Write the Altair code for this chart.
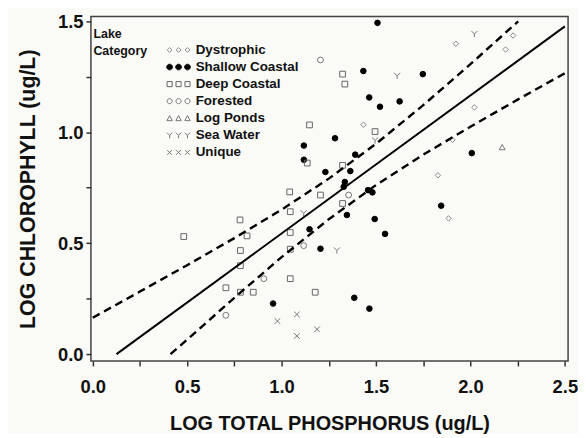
import altair as alt
import pandas as pd

# ---------------- data ----------------
categories = ["Dystrophic", "Shallow Coastal", "Deep Coastal", "Forested",
              "Log Ponds", "Sea Water", "Unique"]

dys_x = [1.923, 2.226, 2.186, 1.434, 2.021, 1.828, 1.884, 1.905]
dys_y = [1.399, 1.436, 1.373, 1.034, 1.112, 0.806, 0.612, 0.966]

sc_x = [1.508, 1.433, 1.748, 1.464, 1.521, 1.625, 1.283, 1.118, 1.118, 1.390,
        1.232, 1.364, 1.335, 1.329, 1.458, 1.481, 2.007, 1.845, 1.346, 1.493,
        1.548, 1.148, 1.206, 1.385, 1.465, 0.955]
sc_y = [1.493, 1.276, 1.262, 1.157, 1.115, 1.139, 0.973, 0.940, 0.876, 0.899,
        0.821, 0.825, 0.776, 0.754, 0.739, 0.729, 0.906, 0.669, 0.627, 0.609,
        0.542, 0.563, 0.475, 0.254, 0.205, 0.228]

dc_x = [1.323, 1.335, 1.148, 1.495, 1.136, 1.323, 1.043, 1.206, 1.046, 1.323,
        1.046, 1.046, 0.780, 0.817, 0.482, 0.782, 0.782, 0.705, 0.782, 0.850,
        1.046, 1.178]
dc_y = [1.262, 1.217, 1.033, 1.003, 0.861, 0.851, 0.731, 0.717, 0.642, 0.679,
        0.548, 0.473, 0.605, 0.533, 0.530, 0.467, 0.399, 0.299, 0.279, 0.279,
        0.340, 0.279]

for_x = [1.206, 1.355, 1.117, 0.906, 0.705]
for_y = [1.326, 0.717, 0.489, 0.340, 0.175]

lp_x = [2.168]
lp_y = [0.933]

sw_x = [2.021, 1.612, 1.495, 1.293, 1.117]
sw_y = [1.443, 1.254, 0.963, 0.467, 0.635]

un_x = [0.978, 1.081, 1.081, 1.188]
un_y = [0.149, 0.179, 0.082, 0.112]

# regression line and confidence band
fit_x = [0.126, 2.5]
fit_y = [0.0, 1.477]
upper_x = [0.0, 0.25, 0.5, 0.75, 1.0, 1.25, 1.5, 1.75, 2.0, 2.253]
upper_y = [0.164, 0.282, 0.401, 0.523, 0.651, 0.791, 0.948, 1.122, 1.307, 1.5]
lower_x = [0.412, 0.5, 0.75, 1.0, 1.25, 1.5, 1.75, 2.0, 2.25, 2.5]
lower_y = [0.0, 0.065, 0.254, 0.437, 0.608, 0.762, 0.899, 1.025, 1.147, 1.266]

x_ticks = [0.0, 0.25, 0.5, 0.75, 1.0, 1.25, 1.5, 1.75, 2.0, 2.25, 2.5]
y_ticks = [0.0, 0.25, 0.5, 0.75, 1.0, 1.25, 1.5]

# ---------------- tables ----------------
series = [(categories[0], dys_x, dys_y), (categories[1], sc_x, sc_y),
          (categories[2], dc_x, dc_y), (categories[3], for_x, for_y),
          (categories[4], lp_x, lp_y), (categories[5], sw_x, sw_y),
          (categories[6], un_x, un_y)]
rows = []
for cat, xs, ys in series:
    for a, b in zip(xs, ys):
        rows.append({"P": a, "C": b, "Category": cat})
pts = pd.DataFrame(rows)

fit_df = pd.DataFrame({"P": fit_x, "C": fit_y})
band_df = pd.concat([
    pd.DataFrame({"P": upper_x, "C": upper_y, "band": "upper"}),
    pd.DataFrame({"P": lower_x, "C": lower_y, "band": "lower"}),
])

# ---------------- styling ----------------
FONT = "Liberation Sans"
Y_PATH = "M-1,-1L0,0L1,-1M0,0L0,1"
X_PATH = "M-0.9,-0.9L0.9,0.9M-0.9,0.9L0.9,-0.9"
shapes = ["diamond", "circle", "square", "circle", "triangle-up", Y_PATH, X_PATH]
fills = ["transparent", "black", "transparent", "transparent", "transparent",
         "transparent", "transparent"]
strokes = ["#8a8a8a", "black", "#666666", "#777777", "#777777", "#777777", "#777777"]
sizes = [30, 40, 44, 34, 50, 42, 34]


def triple(glyph):
    out = []
    for cx in (-6.0, -3.0, 0.0):
        out.append(glyph(cx))
    return "".join(out)


leg_shapes = [
    triple(lambda c: f"M{c},-0.8L{c+0.8},0L{c},0.8L{c-0.8},0Z"),
    triple(lambda c: f"M{c-0.95},0A0.95,0.95 0 1,0 {c+0.95},0A0.95,0.95 0 1,0 {c-0.95},0Z"),
    triple(lambda c: f"M{c-0.85},-0.85L{c+0.85},-0.85L{c+0.85},0.85L{c-0.85},0.85Z"),
    triple(lambda c: f"M{c-0.85},0A0.85,0.85 0 1,0 {c+0.85},0A0.85,0.85 0 1,0 {c-0.85},0Z"),
    triple(lambda c: f"M{c},-0.9L{c+0.9},0.8L{c-0.9},0.8Z"),
    triple(lambda c: f"M{c-0.9},-0.9L{c},0L{c+0.9},-0.9M{c},0L{c},1"),
    triple(lambda c: f"M{c-0.8},-0.8L{c+0.8},0.8M{c-0.8},0.8L{c+0.8},-0.8"),
]

x_scale = alt.Scale(domain=[-0.0095, 2.517], nice=False, zero=False)
y_scale = alt.Scale(domain=[-0.031, 1.522], nice=False, zero=False)

LBL = "abs(datum.value*2 - round(datum.value*2)) < 0.001 ? format(datum.value, '.1f') : ''"

x_axis = alt.Axis(values=x_ticks, title="LOG TOTAL PHOSPHORUS (ug/L)", labelExpr=LBL,
                  grid=False, domain=False, tickSize=5, tickWidth=1.5, tickColor="#333",
                  labelFont=FONT, labelFontWeight="bold", labelFontSize=18.5, labelColor="#111",
                  labelPadding=12, titleFont=FONT, titleFontSize=20, titleFontWeight="bold",
                  titleColor="#111", titlePadding=17)
y_axis = alt.Axis(values=y_ticks, title="LOG CHLOROPHYLL (ug/L)", labelExpr=LBL,
                  grid=False, domain=False, tickSize=5, tickWidth=1.5, tickColor="#333",
                  labelFont=FONT, labelFontWeight="bold", labelFontSize=18.5, labelColor="#111",
                  labelPadding=3, titleFont=FONT, titleFontSize=21.5, titleFontWeight="bold",
                  titleColor="#111", titlePadding=18)

points = alt.Chart(pts).mark_point(filled=True, opacity=1, strokeWidth=1).encode(
    x=alt.X("P:Q", scale=x_scale, axis=x_axis),
    y=alt.Y("C:Q", scale=y_scale, axis=y_axis),
    shape=alt.Shape("Category:N", scale=alt.Scale(domain=categories, range=shapes), legend=None),
    fill=alt.Fill("Category:N", scale=alt.Scale(domain=categories, range=fills), legend=None),
    stroke=alt.Stroke("Category:N", scale=alt.Scale(domain=categories, range=strokes), legend=None),
    size=alt.Size("Category:N", scale=alt.Scale(domain=categories, range=sizes), legend=None),
)

leg = alt.Legend(title=["Lake", "Category"], orient="none", legendX=2.5, legendY=27,
                 titleOrient="left", titleAnchor="start",
                 titleBaseline="line-bottom", titleAlign="left", titleLineHeight=17,
                 titleFont=FONT, titleFontSize=12.5, titleFontWeight="bold",
                 titleColor="#111", titlePadding=33, labelFont=FONT,
                 labelFontSize=13.5, labelFontWeight="bold", labelColor="#111",
                 labelOffset=1.5, symbolSize=36, symbolStrokeWidth=1,
                 rowPadding=2.2, padding=0)

legend_layer = alt.Chart(pts).transform_filter("false").mark_point(
    filled=True, opacity=1, strokeWidth=1).encode(
    x=alt.X("P:Q", scale=x_scale),
    y=alt.Y("C:Q", scale=y_scale),
    shape=alt.Shape("Category:N", scale=alt.Scale(domain=categories, range=leg_shapes), legend=leg),
    fill=alt.Fill("Category:N", scale=alt.Scale(domain=categories, range=fills), legend=leg),
    stroke=alt.Stroke("Category:N", scale=alt.Scale(domain=categories, range=strokes), legend=leg),
)

fit_line = alt.Chart(fit_df).mark_line(color="black", strokeWidth=2).encode(
    x=alt.X("P:Q", scale=x_scale), y=alt.Y("C:Q", scale=y_scale))

band_lines = alt.Chart(band_df).mark_line(color="black", strokeWidth=2.4,
                                          strokeDash=[8, 5]).encode(
    x=alt.X("P:Q", scale=x_scale), y=alt.Y("C:Q", scale=y_scale),
    detail="band:N")

chart = alt.layer(points, legend_layer, fit_line, band_lines).resolve_scale(
    shape="independent", fill="independent", stroke="independent", size="independent"
).properties(
    width=480.5, height=347,
    autosize=alt.AutoSizeParams(type="none"),
    padding={"left": 83.5, "top": 7, "right": 10, "bottom": 72},
    background="#fafaf7",
).configure_view(stroke="#444", strokeWidth=1.5, fill="#fafaf7")

chart.save("out.html", embed_options={"renderer": "svg", "actions": False})
